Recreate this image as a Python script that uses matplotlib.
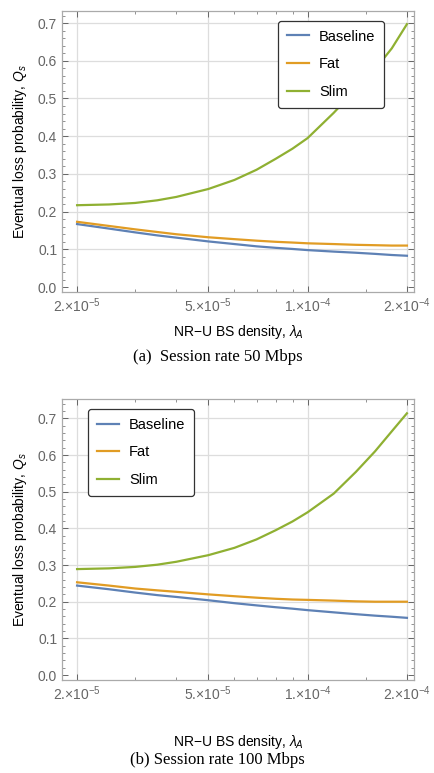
import matplotlib
matplotlib.use('Agg')
import matplotlib.pyplot as plt
from matplotlib.ticker import FixedLocator, MultipleLocator, NullFormatter

plt.rcParams['font.family'] = ['Liberation Sans', 'DejaVu Sans']
plt.rcParams['mathtext.fontset'] = 'custom'
plt.rcParams['mathtext.rm'] = 'Liberation Sans'
plt.rcParams['mathtext.it'] = 'Liberation Sans:italic'

# data
density = [2e-5, 2.5e-5, 3e-5, 3.5e-5, 4e-5, 5e-5, 6e-5, 7e-5, 8e-5, 9e-5,
           1e-4, 1.2e-4, 1.4e-4, 1.6e-4, 1.8e-4, 2e-4]

base_50 = [0.167, 0.155, 0.145, 0.137, 0.131, 0.121, 0.114, 0.108, 0.104, 0.101,
           0.098, 0.094, 0.091, 0.088, 0.085, 0.083]
fat_50 = [0.173, 0.162, 0.153, 0.146, 0.140, 0.132, 0.127, 0.123, 0.120, 0.118,
          0.116, 0.114, 0.112, 0.111, 0.110, 0.110]
slim_50 = [0.217, 0.219, 0.223, 0.230, 0.239, 0.260, 0.284, 0.311, 0.340, 0.367,
           0.395, 0.462, 0.524, 0.577, 0.633, 0.697]

base_100 = [0.244, 0.234, 0.225, 0.218, 0.213, 0.204, 0.196, 0.190, 0.185, 0.181,
            0.177, 0.171, 0.166, 0.162, 0.159, 0.156]
fat_100 = [0.253, 0.244, 0.236, 0.231, 0.227, 0.220, 0.215, 0.211, 0.208, 0.206,
           0.205, 0.203, 0.201, 0.200, 0.200, 0.200]
slim_100 = [0.289, 0.291, 0.295, 0.301, 0.309, 0.327, 0.347, 0.370, 0.395, 0.419,
            0.444, 0.495, 0.554, 0.610, 0.665, 0.714]

xticks = [2e-5, 5e-5, 1e-4, 2e-4]
xtick_labels = ['2.×10$^{-5}$', '5.×10$^{-5}$', '1.×10$^{-4}$', '2.×10$^{-4}$']
yticks = [0.0, 0.1, 0.2, 0.3, 0.4, 0.5, 0.6, 0.7]

names = ['Baseline', 'Fat', 'Slim']
colors = ['#5E81B5', '#E19C24', '#8FB032']
gray = '#666666'

fig = plt.figure(figsize=(4.35, 7.73), dpi=100)
ax1 = fig.add_axes([0.1425, 0.6223, 0.809, 0.3635])
ax2 = fig.add_axes([0.1425, 0.1203, 0.809, 0.3635])

panels = [
    (ax1, [base_50, fat_50, slim_50], (-0.013, 0.732), (0.614, 0.965), 6,
     '(a)  Session rate 50 Mbps', 0.538),
    (ax2, [base_100, fat_100, slim_100], (-0.0136, 0.753), (0.074, 0.965), 22,
     '(b) Session rate 100 Mbps', 0.0168),
]

for ax, series, ylim, leg_pos, xpad, caption, cap_y in panels:
    for vals, name, c in zip(series, names, colors):
        ax.plot(density, vals, color=c, lw=1.6, label=name)
    ax.set_xscale('log')
    ax.set_xlim(1.8e-5, 2.1e-4)
    ax.set_ylim(*ylim)

    ax.xaxis.set_major_locator(FixedLocator(xticks))
    ax.set_xticklabels(xtick_labels)
    ax.xaxis.set_minor_locator(FixedLocator([3e-5, 4e-5, 6e-5, 7e-5, 8e-5, 9e-5, 1.5e-4]))
    ax.xaxis.set_minor_formatter(NullFormatter())
    ax.set_yticks(yticks)
    ax.set_yticklabels(['%.1f' % v for v in yticks])
    ax.yaxis.set_minor_locator(MultipleLocator(0.02))

    ax.tick_params(which='both', direction='in', top=True, right=True, colors=gray,
                   labelcolor=gray, labelsize=10)
    ax.tick_params(which='major', length=4, width=0.7)
    ax.tick_params(which='minor', length=2, width=0.5)
    ax.tick_params(axis='x', pad=3)
    for s in ax.spines.values():
        s.set_color('#aaaaaa')
        s.set_linewidth(0.9)

    for v in yticks[1:]:
        ax.axhline(v, color='#dddddd', lw=0.9, zorder=0)
    for v in xticks:
        ax.axvline(v, color='#dddddd', lw=0.9, zorder=0)

    ax.set_ylabel('Eventual loss probability, $Q_s$', fontsize=10, labelpad=6)
    ax.set_xlabel('NR−U BS density, $\\lambda_A$', fontsize=10, labelpad=xpad)

    leg = ax.legend(loc='upper left', bbox_to_anchor=leg_pos, borderaxespad=0, fontsize=10.5,
                    frameon=True, fancybox=True, framealpha=1, edgecolor='#333333',
                    handlelength=1.5, labelspacing=0.95, borderpad=0.6, handletextpad=0.7)
    leg.get_frame().set_linewidth(0.9)

    fig.text(0.5, cap_y, caption, ha='center', va='center', fontsize=12,
             family='Liberation Serif')

fig.savefig('out.png', dpi=100)
